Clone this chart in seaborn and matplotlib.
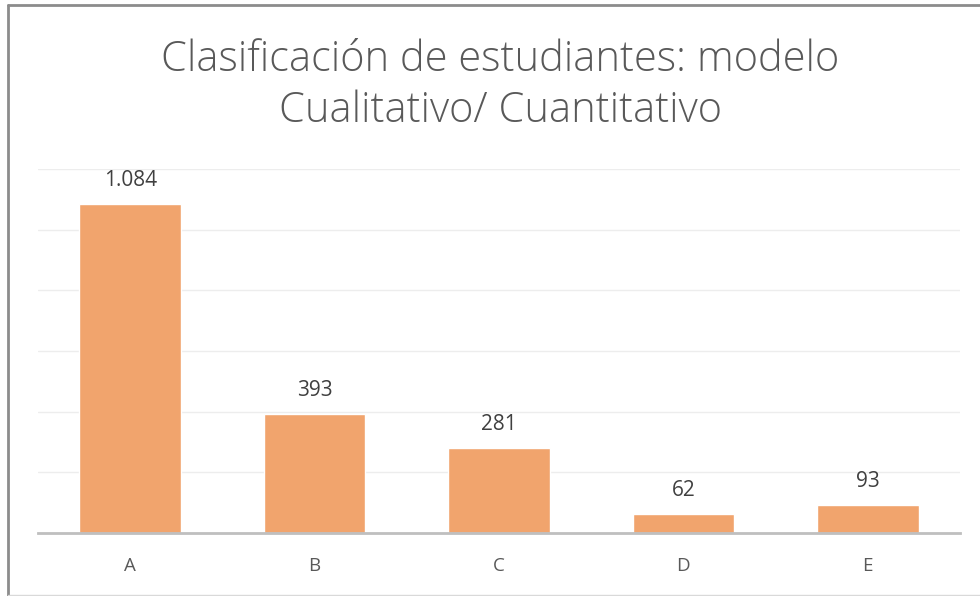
import matplotlib
matplotlib.use("Agg")
import matplotlib.pyplot as plt
import seaborn as sns
import pandas as pd
from matplotlib.lines import Line2D

categories = ["A", "B", "C", "D", "E"]
values = [1084, 393, 281, 62, 93]
labels = ["1.084", "393", "281", "62", "93"]

df = pd.DataFrame({"cat": categories, "n": values})

sns.set_style("white")
plt.rcParams["font.family"] = ["Open Sans", "DejaVu Sans"]

fig = plt.figure(figsize=(9.8, 5.96), dpi=100)
ax = fig.add_axes([38 / 980, 63 / 596, 922 / 980, 364 / 596])

sns.barplot(data=df, x="cat", y="n", ax=ax, color="#F1A46D", saturation=1,
            width=0.55, zorder=3)

ax.set_ylim(0, 1200)
ax.set_yticks(range(0, 1201, 200))
ax.yaxis.grid(True, color="#EDEDED", linewidth=1, zorder=0)
ax.tick_params(axis="y", left=False, labelleft=False)
ax.tick_params(axis="x", bottom=False, labelsize=13.5, labelcolor="#595959", pad=14)
ax.set_xlabel("")
ax.set_ylabel("")
for s in ["left", "right", "top"]:
    ax.spines[s].set_visible(False)
ax.spines["bottom"].set_color("#BFBFBF")
ax.spines["bottom"].set_linewidth(2)
ax.spines["bottom"].set_zorder(4)

for p, lab in zip(ax.patches, labels):
    ax.annotate(lab, (p.get_x() + p.get_width() / 2, p.get_height()),
                xytext=(0, 9.5), textcoords="offset points",
                ha="center", va="bottom", fontsize=15, color="#404040")

fig.text(500 / 980, 1 - 85 / 596, "Clasificación de estudiantes: modelo\nCualitativo/ Cuantitativo",
         ha="center", va="center", fontsize=30, color="#595959",
         fontweight="light", linespacing=1.25)

# outer frame
fig.add_artist(Line2D([8 / 980, 8 / 980], [0, 1 - 5 / 596], transform=fig.transFigure,
                      color="#8C8C8C", linewidth=2))
fig.add_artist(Line2D([8 / 980, 1], [1 - 5 / 596, 1 - 5 / 596], transform=fig.transFigure,
                      color="#8C8C8C", linewidth=2))
fig.add_artist(Line2D([8 / 980, 1], [1 / 596, 1 / 596], transform=fig.transFigure,
                      color="#D9D9D9", linewidth=1))

fig.savefig("out.png", dpi=100)
